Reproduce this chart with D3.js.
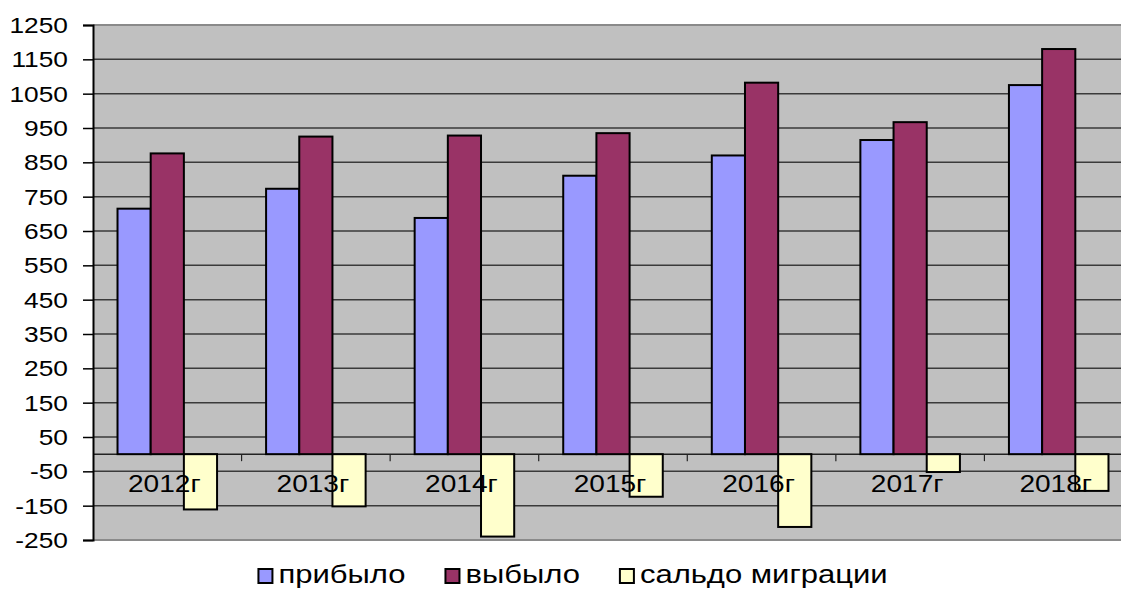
<!DOCTYPE html>
<html>
<head>
<meta charset="utf-8">
<script src="https://cdn.jsdelivr.net/npm/d3@7"></script>
<style>
  html, body { margin: 0; padding: 0; background: #ffffff; }
  svg { display: block; }
  text { font-family: "Liberation Sans", Arial, sans-serif; fill: #000; }
</style>
</head>
<body>
<svg id="chart" width="1121" height="590"></svg>
<script>
const years = ["2012г", "2013г", "2014г", "2015г", "2016г", "2017г", "2018г"];
const arrived = [715, 773, 688, 811, 870, 915, 1075];
const departed = [876, 925, 928, 935, 1082, 967, 1180];
const balance = [-161, -152, -240, -124, -212, -52, -107];
const seriesNames = ["прибыло", "выбыло", "сальдо миграции"];
const seriesColors = ["#9999FF", "#993366", "#FFFFCC"];
const yTickValues = [1250, 1150, 1050, 950, 850, 750, 650, 550, 450, 350, 250, 150, 50, -50, -150, -250];

const seriesData = [arrived, departed, balance];
const STRETCH = 1.17;

const svg = d3.select("#chart");
const plotLeft = 93, plotRight = 1133, plotTop = 25, plotBottom = 540;

const y = d3.scaleLinear().domain([-250, 1250]).range([plotBottom, plotTop]);
const x0 = d3.scaleBand().domain(years).range([plotLeft, plotRight]).paddingInner(0.33).paddingOuter(0.165);
const x1 = d3.scaleBand().domain(seriesNames).range([0, x0.bandwidth()]).padding(0);

// plot background
svg.append("rect").attr("x", plotLeft).attr("y", plotTop)
  .attr("width", plotRight - plotLeft).attr("height", plotBottom - plotTop)
  .attr("fill", "#C0C0C0");

// gridlines
svg.append("g").selectAll("line").data(yTickValues.filter(v => v !== 1250 && v !== -250)).join("line")
  .attr("x1", plotLeft).attr("x2", plotRight)
  .attr("y1", d => y(d)).attr("y2", d => y(d))
  .attr("stroke", "#3a3a3a").attr("stroke-width", 1.5);

// top & bottom borders
svg.append("line").attr("x1", plotLeft).attr("x2", plotRight).attr("y1", y(1250)).attr("y2", y(1250))
  .attr("stroke", "#8a8a8a").attr("stroke-width", 2);
svg.append("line").attr("x1", plotLeft).attr("x2", plotRight).attr("y1", y(-250)).attr("y2", y(-250))
  .attr("stroke", "#8a8a8a").attr("stroke-width", 2);

// zero (category) axis line
svg.append("line").attr("x1", plotLeft).attr("x2", plotRight).attr("y1", y(0)).attr("y2", y(0))
  .attr("stroke", "#222").attr("stroke-width", 1.5);

// category ticks at group boundaries
const step = x0.step();
const boundaries = d3.range(1, years.length).map(i => plotLeft + i * step);
svg.append("g").selectAll("line").data(boundaries).join("line")
  .attr("x1", d => d).attr("x2", d => d)
  .attr("y1", y(0)).attr("y2", y(0) + 7)
  .attr("stroke", "#222").attr("stroke-width", 1.2);

// bars
const groups = svg.append("g").selectAll("g").data(years).join("g")
  .attr("transform", d => `translate(${x0(d)},0)`);
groups.selectAll("rect").data((d, i) => seriesNames.map((s, k) => ({ s, k, v: seriesData[k][i] }))).join("rect")
  .attr("x", d => x1(d.s))
  .attr("width", x1.bandwidth())
  .attr("y", d => y(Math.max(0, d.v)))
  .attr("height", d => Math.abs(y(d.v) - y(0)))
  .attr("fill", d => seriesColors[d.k])
  .attr("stroke", "#000").attr("stroke-width", 2);

// left axis
const yAxis = d3.axisLeft(y).tickValues(yTickValues).tickSize(10).tickFormat("");
const ya = svg.append("g").attr("transform", `translate(${plotLeft},0)`).call(yAxis);
ya.select(".domain").attr("stroke", "#000").attr("stroke-width", 2);
ya.selectAll(".tick line").attr("stroke", "#000").attr("stroke-width", 1.5);

// y labels
svg.append("g").selectAll("text").data(yTickValues).join("text")
  .attr("transform", d => `translate(68,${y(d)}) scale(${STRETCH},1)`)
  .attr("text-anchor", "end").attr("dy", "0.36em")
  .attr("font-size", 22.5)
  .text(d => d);

// category labels
svg.append("g").selectAll("text").data(years).join("text")
  .attr("transform", d => `translate(${x0(d) + x0.bandwidth() / 2 - 3},492) scale(${STRETCH},1)`)
  .attr("text-anchor", "middle")
  .attr("font-size", 24)
  .text(d => d);

// legend
const legend = svg.append("g");
const legendFont = 26.5;
const sq = 14, gap = 6, itemGap = 40;
let xpos = 0;
seriesNames.forEach((name, k) => {
  const g = legend.append("g");
  g.append("rect").attr("x", 0).attr("y", -14).attr("width", sq).attr("height", sq)
    .attr("fill", seriesColors[k]).attr("stroke", "#000").attr("stroke-width", 2);
  const t = g.append("text").attr("transform", `translate(${sq + gap},0) scale(${STRETCH},1)`)
    .attr("font-size", legendFont).text(name);
  const w = t.node().getComputedTextLength() * STRETCH;
  g.attr("transform", `translate(${xpos},0)`);
  xpos += sq + gap + w + itemGap;
});
const total = xpos - itemGap;
legend.attr("transform", `translate(${573 - total / 2},583)`);
</script>
</body>
</html>
